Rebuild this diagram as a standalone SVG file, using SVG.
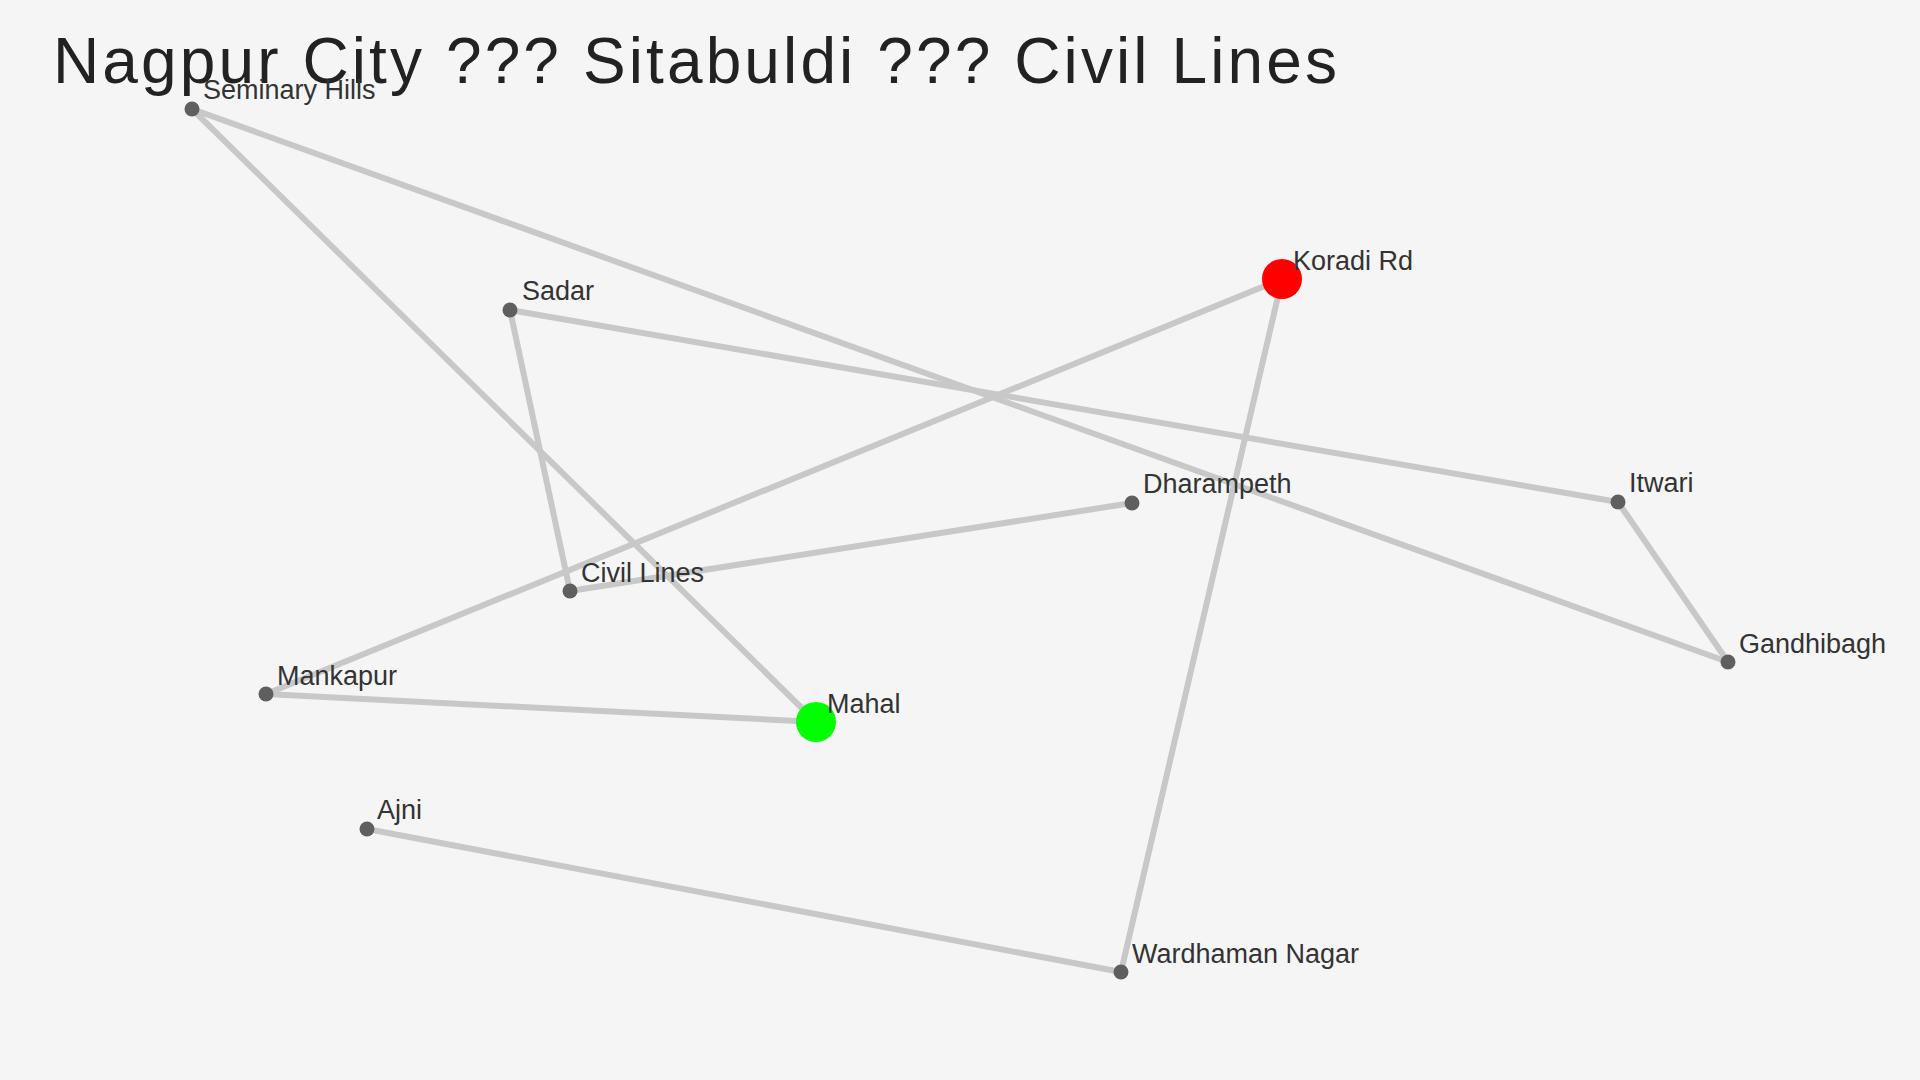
<svg xmlns="http://www.w3.org/2000/svg" width="1920" height="1080" viewBox="0 0 1920 1080">
<style>
.edge{stroke:#c8c8c8;stroke-width:6;stroke-linecap:round;fill:none}
.dot{fill:#5f5f5f}
.lbl{font-family:"Liberation Sans",Arial,sans-serif;font-size:27px;fill:#333333}
.title{font-family:"Liberation Sans",Arial,sans-serif;font-size:64px;fill:#222222}
</style>
<rect width="1920" height="1080" fill="#f5f5f5"/>
<text class="title" x="53" y="83" textLength="1284" lengthAdjust="spacing">Nagpur City ??? Sitabuldi ??? Civil Lines</text>
<g id="connectors">
<line class="edge" x1="192" y1="109" x2="816" y2="722"/>
<line class="edge" x1="192" y1="109" x2="1728" y2="662"/>
<line class="edge" x1="510" y1="310" x2="1618" y2="502"/>
<line class="edge" x1="510" y1="310" x2="570" y2="591"/>
<line class="edge" x1="1282" y1="279" x2="266" y2="694"/>
<line class="edge" x1="1282" y1="279" x2="1121" y2="972"/>
<line class="edge" x1="570" y1="591" x2="1132" y2="503"/>
<line class="edge" x1="1618" y1="502" x2="1728" y2="662"/>
<line class="edge" x1="266" y1="694" x2="816" y2="722"/>
<line class="edge" x1="367" y1="829" x2="1121" y2="972"/>
</g>
<g id="node-seminary-hills"><circle class="dot" cx="192" cy="109" r="7.5"/><text class="lbl" x="203" y="99">Seminary Hills</text></g>
<g id="node-sadar"><circle class="dot" cx="510" cy="310" r="7.5"/><text class="lbl" x="522" y="300">Sadar</text></g>
<g id="node-koradi-rd"><circle cx="1282" cy="279" r="20" fill="#ff0000"/><text class="lbl" x="1293" y="270">Koradi Rd</text></g>
<g id="node-dharampeth"><circle class="dot" cx="1132" cy="503" r="7.5"/><text class="lbl" x="1143" y="493">Dharampeth</text></g>
<g id="node-itwari"><circle class="dot" cx="1618" cy="502" r="7.5"/><text class="lbl" x="1629" y="492">Itwari</text></g>
<g id="node-gandhibagh"><circle class="dot" cx="1728" cy="662" r="7.5"/><text class="lbl" x="1739" y="653">Gandhibagh</text></g>
<g id="node-civil-lines"><circle class="dot" cx="570" cy="591" r="7.5"/><text class="lbl" x="581" y="582">Civil Lines</text></g>
<g id="node-mankapur"><circle class="dot" cx="266" cy="694" r="7.5"/><text class="lbl" x="277" y="685">Mankapur</text></g>
<g id="node-mahal"><circle cx="816" cy="722" r="20" fill="#00ff00"/><text class="lbl" x="827" y="713">Mahal</text></g>
<g id="node-ajni"><circle class="dot" cx="367" cy="829" r="7.5"/><text class="lbl" x="377" y="819">Ajni</text></g>
<g id="node-wardhaman-nagar"><circle class="dot" cx="1121" cy="972" r="7.5"/><text class="lbl" x="1132" y="963">Wardhaman Nagar</text></g>
</svg>
